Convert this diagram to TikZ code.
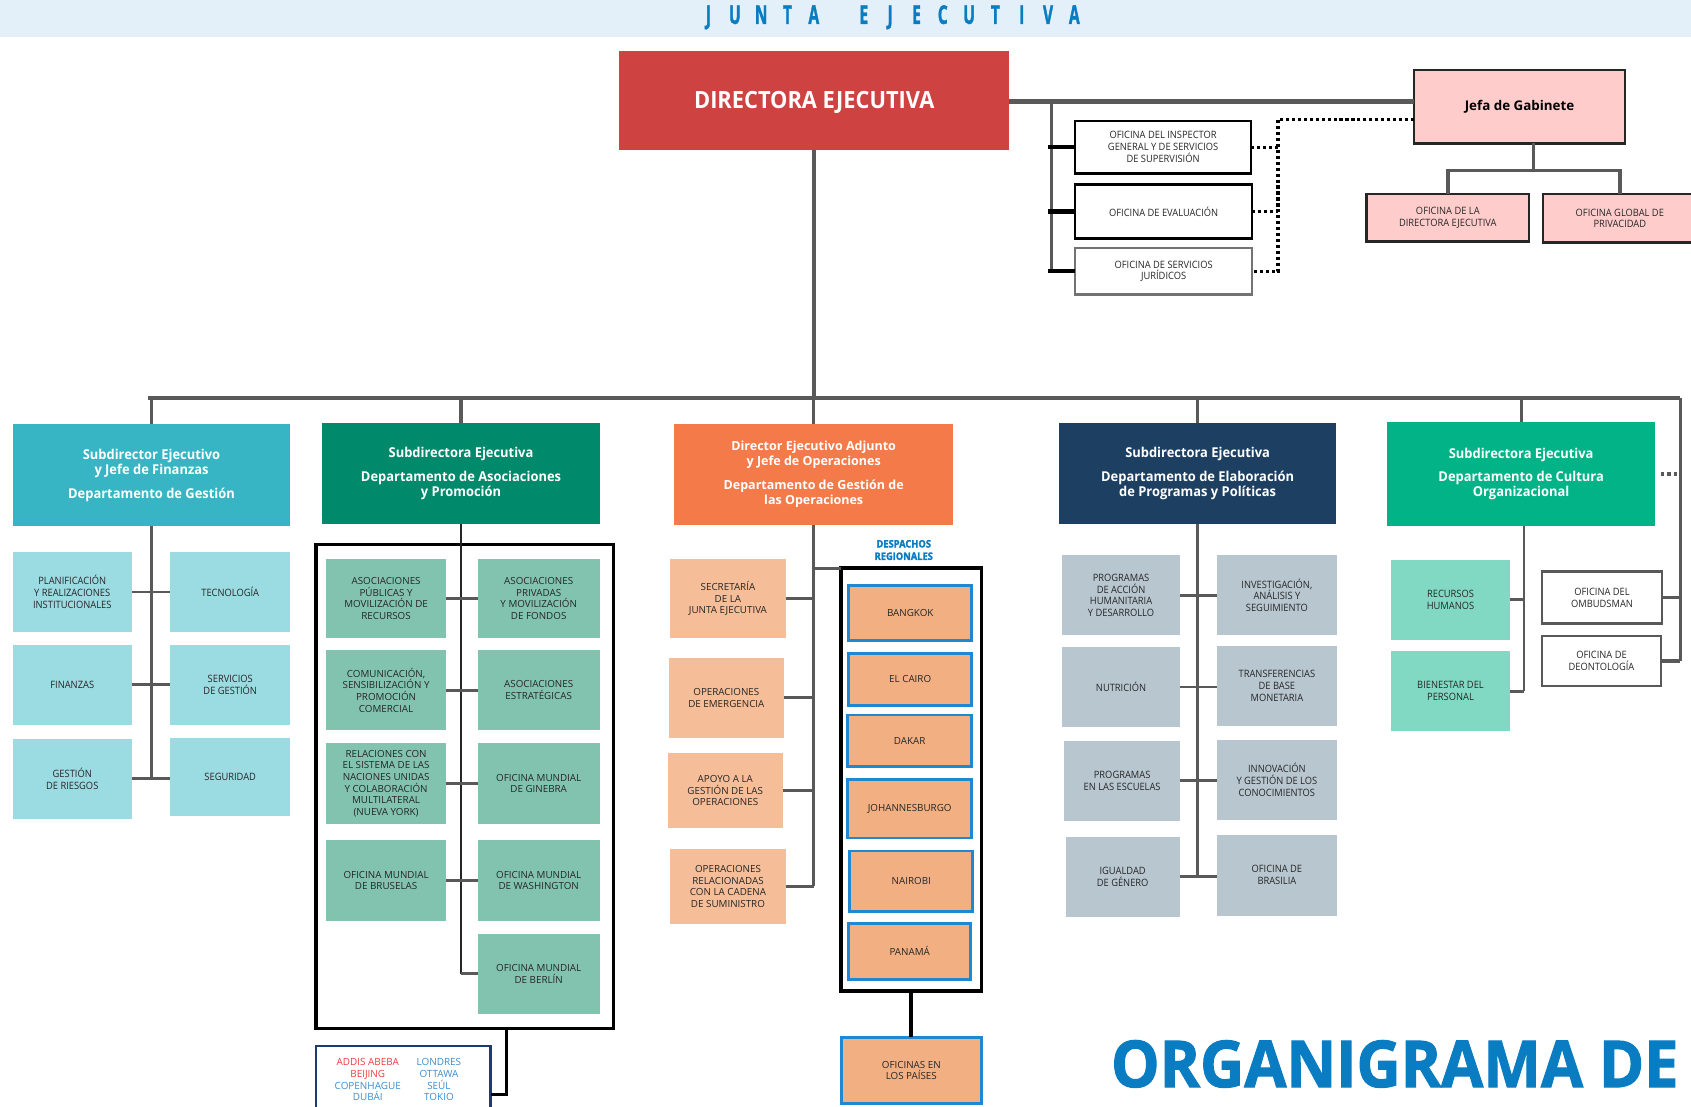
\documentclass[tikz,border=0pt]{standalone}
\usepackage{fontspec}
\setmainfont{Open Sans}
\newfontfamily\condf{Open Sans}[FakeStretch=0.92]
\newfontfamily\widef{Open Sans}
\newfontfamily\hdrf{Open Sans}[FakeStretch=0.6, BoldFeatures={FakeBold=1.2}]
\newfontfamily\deptf{Open Sans}[FakeStretch=0.95]
\newfontfamily\bigf{Open Sans}[FakeStretch=0.92]
\newfontfamily\orgf{Open Sans}[FakeStretch=0.945, BoldFeatures={FakeBold=1.6}]
\newfontfamily\heavyf{Open Sans}[FakeStretch=0.9, BoldFeatures={FakeBold=2}]
\definecolor{bandc}{HTML}{E3F0F9}
\definecolor{hblue}{HTML}{0A7CC1}
\definecolor{redc}{HTML}{CF4242}
\definecolor{pinkc}{HTML}{FFCCCC}
\definecolor{lgray}{HTML}{595959}
\definecolor{txt}{HTML}{262626}
\definecolor{tealc}{HTML}{38B5C5}
\definecolor{lteal}{HTML}{9BDBE2}
\definecolor{dgreen}{HTML}{00896A}
\definecolor{lgreen}{HTML}{82C3AF}
\definecolor{orangec}{HTML}{F47A4A}
\definecolor{peach}{HTML}{F5BD98}
\definecolor{regfill}{HTML}{F2AF82}
\definecolor{regblue}{HTML}{1E88D0}
\definecolor{navyc}{HTML}{1D4062}
\definecolor{gblue}{HTML}{B8C6D0}
\definecolor{greenc}{HTML}{02B388}
\definecolor{mint}{HTML}{82D9C3}
\definecolor{citynavy}{HTML}{1F3A6E}
\definecolor{cityred}{HTML}{F03C3C}
\definecolor{cityblue}{HTML}{3A8DD0}
\newcommand\obox[7]{\node[#6, minimum width={(#4)-(#2)}, minimum height={(#5)-(#3)}] (#1) at ({((#2)+(#4))/2},{((#3)+(#5))/2}) {#7};}
\newcommand\lbx[1]{\makebox[24.4pt]{#1}}
\begin{document}
\begin{tikzpicture}[x=1pt,y=-1pt,
  bx/.style={inner sep=0pt, outer sep=0pt, align=center, text=txt, font=\condf\fontsize{9.4}{11}\selectfont},
  wx/.style={bx, font=\widef\fontsize{9.1}{10.8}\selectfont},
  dept/.style={bx, text=white, font=\deptf\bfseries\fontsize{12.6}{14}\selectfont},
  conn/.style={draw=lgray, line width=2.6pt},
  bus/.style={draw=lgray, line width=4.5pt},
  dotl/.style={draw=black, line width=3pt, dash pattern=on 3pt off 2.5pt},
  fin/.style={bx, fill=lteal},
  aso/.style={wx, fill=lgreen},
  ops/.style={wx, fill=peach},
  reg/.style={wx, fill=regfill, draw=regblue, line width=2.5pt},
  prg/.style={bx, fill=gblue},
  cul/.style={bx, fill=mint},
  wbox/.style={bx, fill=white, draw=black, line width=2.2pt},
  pbox/.style={bx, fill=pinkc, draw=black!85, line width=2.2pt},
  frame/.style={draw=black, line width=3pt, inner sep=0pt, outer sep=0pt}
]
\useasboundingbox (0,0) rectangle (1568,1026);
\clip (0,0) rectangle (1568,1026);

% header
\obox{band}{0}{0}{1568}{34}{bx, fill=bandc}{}
\node[inner sep=0pt, text=hblue, font=\hdrf\bfseries\fontsize{24}{26}\selectfont] (junta) at (826.6,16)
  {\lbx{J}\lbx{U}\lbx{N}\lbx{T}\lbx{A}\hspace{22pt}\lbx{E}\lbx{J}\lbx{E}\lbx{C}\lbx{U}\lbx{T}\lbx{I}\lbx{V}\lbx{A}};

% director and cabinet
\obox{dir}{574}{47}{936}{139}{bx, fill=redc}{}
\node[inner sep=0pt, text=white, font=\bigf\bfseries\fontsize{22}{24}\selectfont] (dirt) at ([yshift=-1.5pt]dir.center) {DIRECTORA EJECUTIVA};
\obox{jefa}{1311}{65}{1507}{133}{pbox, text=black, font=\widef\bfseries\fontsize{12.4}{14}\selectfont}{Jefa de Gabinete}
\obox{odir}{1267}{180}{1418}{224}{pbox}{OFICINA DE LA\\DIRECTORA EJECUTIVA}
\obox{opriv}{1431}{180}{1573}{225}{pbox}{OFICINA GLOBAL DE\\PRIVACIDAD}
\obox{oig}{997}{112}{1160}{161}{wbox}{OFICINA DEL INSPECTOR\\GENERAL Y DE SERVICIOS\\DE SUPERVISIÓN}
\obox{oev}{997}{171}{1161}{221}{wbox}{OFICINA DE EVALUACIÓN}
\obox{ojur}{997}{230}{1161}{273}{wbox, draw=black!55}{OFICINA DE SERVICIOS\\JURÍDICOS}

% departments
\obox{d1}{12}{393}{269}{488}{dept, fill=tealc}{Subdirector Ejecutivo\\y Jefe de Finanzas\\[8pt]Departamento de Gestión}
\obox{d2}{299}{392}{556}{486}{dept, fill=dgreen}{Subdirectora Ejecutiva\\[8pt]Departamento de Asociaciones\\y Promoción}
\obox{d3}{625}{393}{884}{487}{dept, fill=orangec, font=\widef\bfseries\fontsize{11.6}{14}\selectfont}{Director Ejecutivo Adjunto\\y Jefe de Operaciones\\[8pt]Departamento de Gestión de\\las Operaciones}
\obox{d4}{982}{392}{1239}{486}{dept, fill=navyc}{Subdirectora Ejecutiva\\[8pt]Departamento de Elaboración\\de Programas y Políticas}
\obox{d5}{1286}{391}{1535}{488}{dept, fill=greenc}{Subdirectora Ejecutiva\\[8pt]Departamento de Cultura\\Organizacional}

% finance
\obox{fpl}{12}{512}{122}{586}{fin}{PLANIFICACIÓN\\Y REALIZACIONES\\INSTITUCIONALES}
\obox{ftec}{158}{512}{269}{586}{fin}{TECNOLOGÍA}
\obox{ffin}{12}{598}{122}{672}{fin}{FINANZAS}
\obox{fsg}{158}{598}{269}{672}{fin}{SERVICIOS\\DE GESTIÓN}
\obox{frg}{12}{685}{122}{759}{fin}{GESTIÓN\\DE RIESGOS}
\obox{fseg}{158}{684}{269}{757}{fin}{SEGURIDAD}

% partnerships
\obox{asf}{293}{505}{569}{954}{frame}{}
\obox{apub}{302}{518}{414}{592}{aso}{ASOCIACIONES\\PÚBLICAS Y\\MOVILIZACIÓN DE\\RECURSOS}
\obox{apriv}{443}{518}{556}{592}{aso}{ASOCIACIONES\\PRIVADAS\\Y MOVILIZACIÓN\\DE FONDOS}
\obox{acom}{302}{603}{414}{677}{aso}{COMUNICACIÓN,\\SENSIBILIZACIÓN Y\\PROMOCIÓN\\COMERCIAL}
\obox{aest}{443}{603}{556}{677}{aso}{ASOCIACIONES\\ESTRATÉGICAS}
\obox{arel}{302}{689}{414}{764}{aso}{RELACIONES CON\\EL SISTEMA DE LAS\\NACIONES UNIDAS\\Y COLABORACIÓN\\MULTILATERAL\\(NUEVA YORK)}
\obox{agin}{443}{689}{556}{764}{aso}{OFICINA MUNDIAL\\DE GINEBRA}
\obox{abru}{302}{779}{414}{854}{aso}{OFICINA MUNDIAL\\DE BRUSELAS}
\obox{awas}{443}{779}{556}{854}{aso}{OFICINA MUNDIAL\\DE WASHINGTON}
\obox{aber}{443}{866}{556}{940}{aso}{OFICINA MUNDIAL\\DE BERLÍN}
\obox{city}{293}{970}{455}{1045}{frame, draw=citynavy, line width=2.5pt, fill=white}{}
\node[bx, text=cityblue, font=\widef\fontsize{9.2}{11}\selectfont] (cityL) at (341,1001) {\textcolor{cityred}{ADDIS ABEBA}\\\textcolor{cityred}{BEIJING}\\COPENHAGUE\\DUBÁI};
\node[bx, text=cityblue, font=\widef\fontsize{9.2}{11}\selectfont] (cityR) at (407,1001) {LONDRES\\OTTAWA\\SEÚL\\TOKIO};

% operations
\obox{osec}{621}{518}{729}{592}{ops}{SECRETARÍA\\DE LA\\JUNTA EJECUTIVA}
\obox{oem}{620}{610}{727}{684}{ops}{OPERACIONES\\DE EMERGENCIA}
\obox{oapo}{619}{698}{726}{768}{ops}{APOYO A LA\\GESTIÓN DE LAS\\OPERACIONES}
\obox{osum}{621}{787}{729}{857}{ops}{OPERACIONES\\RELACIONADAS\\CON LA CADENA\\DE SUMINISTRO}
\node[bx, text=hblue, font=\heavyf\bfseries\fontsize{9.6}{11.5}\selectfont] (despl) at (838,510) {DESPACHOS\\REGIONALES};
\obox{regf}{780}{527}{910}{919}{frame, line width=3.5pt}{}
\obox{rbkk}{787}{543}{901}{594}{reg}{BANGKOK}
\obox{rcai}{787}{606}{901}{654}{reg}{EL CAIRO}
\obox{rdak}{786}{663}{901}{711}{reg}{DAKAR}
\obox{rjoh}{786}{723}{901}{777}{reg}{JOHANNESBURGO}
\obox{rnai}{788}{789}{902}{845}{reg}{NAIROBI}
\obox{rpan}{787}{856}{900}{908}{reg}{PANAMÁ}
\obox{pais}{780}{962}{910}{1023}{reg}{OFICINAS EN\\LOS PAÍSES}

% programmes
\obox{pha}{985}{515}{1094}{589}{prg}{PROGRAMAS\\DE ACCIÓN\\HUMANITARIA\\Y DESARROLLO}
\obox{pinv}{1128}{515}{1240}{589}{prg}{INVESTIGACIÓN,\\ANÁLISIS Y\\SEGUIMIENTO}
\obox{pnut}{985}{600}{1094}{674}{prg}{NUTRICIÓN}
\obox{ptra}{1128}{599}{1240}{673}{prg}{TRANSFERENCIAS\\DE BASE\\MONETARIA}
\obox{pesc}{987}{687}{1094}{761}{prg}{PROGRAMAS\\EN LAS ESCUELAS}
\obox{pinn}{1128}{686}{1240}{760}{prg}{INNOVACIÓN\\Y GESTIÓN DE LOS\\CONOCIMIENTOS}
\obox{pgen}{988}{776}{1094}{850}{prg}{IGUALDAD\\DE GÉNERO}
\obox{pbra}{1128}{774}{1240}{849}{prg}{OFICINA DE\\BRASILIA}

% culture
\obox{crh}{1290}{519}{1400}{593}{cul}{RECURSOS\\HUMANOS}
\obox{cbp}{1290}{604}{1400}{678}{cul}{BIENESTAR DEL\\PERSONAL}
\obox{comb}{1430}{530}{1541}{578}{wbox, draw=lgray}{OFICINA DEL\\OMBUDSMAN}
\obox{cdeo}{1430}{590}{1540}{636}{wbox, draw=lgray}{OFICINA DE\\DEONTOLOGÍA}

\node[anchor=base west, inner sep=0pt, text=hblue, font=\orgf\bfseries\fontsize{60}{60}\selectfont] (org) at (1030,1008) {ORGANIGRAMA DE};

% ---- connectors
\coordinate (tbr) at (975,94);
\coordinate (dv) at (1185,111);
\coordinate (jj) at (1422,158);
\coordinate (busL) at (137,369);
\coordinate (busR) at (1558,369);
\coordinate (cb) at (470,1015);

\draw[conn, line width=4pt] (dir.east |- tbr) -- (tbr -| jefa.west);
\draw[conn, line width=3pt] (tbr) -- (tbr |- ojur.west);
\foreach \n in {oig,oev,ojur} \draw[draw=black, line width=4pt] (\n.west -| tbr) ++(-3,0) -- (\n.west);
\draw[dotl] (dv -| jefa.west) -- (dv) -- (dv |- ojur.east) -- (ojur.east);
\draw[dotl] (oig.east) -- (oig.east -| dv);
\draw[dotl] (oev.east) -- (oev.east -| dv);
\draw[conn, line width=3.5pt] (jefa.south -| jj) -- (jj);
\draw[conn, line width=3.5pt] (odir.north) -- (odir.north |- jj) -- (opriv.north |- jj) -- (opriv.north);

\draw[bus, line width=4pt] (dir.south) -- (dir.south |- busL);
\draw[bus] (busL) -- (busR);
\draw[conn, line width=3pt] (busR) -- (busR |- cdeo.east);
\foreach \d in {d1,d2,d3,d4,d5} \draw[conn, line width=3pt] (\d.north |- busL) -- (\d.north);

% finance
\draw[conn] (d1.south) -- (d1.south |- frg.east);
\foreach \l/\r in {fpl/ftec, ffin/fsg, frg/fseg} \draw[conn] (\l.east) -- (\l.east -| \r.west);
% partnerships
\draw[conn, draw=black!85] (d2.south) -- (d2.south |- aber.west);
\foreach \l/\r in {apub/apriv, acom/aest, arel/agin, abru/awas} \draw[conn] (\l.east) -- (\l.east -| \r.west);
\draw[conn] (aber.west -| d2.south) -- (aber.west);
\draw[draw=black, line width=3pt] (asf.south -| cb) -- (cb) -- (cb -| city.east);
% operations
\draw[conn] (d3.south) -- (d3.south |- osum.east);
\foreach \n in {osec,oem,oapo,osum} \draw[conn] (\n.east) -- (\n.east -| d3.south);
\draw[conn] (regf.north west -| d3.south) -- (regf.north west);
\draw[draw=black, line width=3.5pt] (regf.south) -- (pais.north);
% programmes
\draw[conn] (d4.south) -- (d4.south |- pgen.east);
\foreach \l/\r in {pha/pinv, pnut/ptra, pesc/pinn, pgen/pbra} \draw[conn] (\l.east) -- (\l.east -| \r.west);
% culture
\draw[conn, line width=2.4pt] ([xshift=2.5pt]d5.south) -- ([xshift=2.5pt]d5.south |- cbp.east);
\foreach \n in {crh,cbp} \draw[conn, line width=2.4pt] (\n.east) -- ([xshift=2.5pt]\n.east -| d5.south);
\foreach \n in {comb,cdeo} \draw[conn, line width=3.5pt] (\n.east) -- (\n.east -| busR);
\draw[draw=lgray, line width=3pt, dash pattern=on 3pt off 3pt] ([xshift=5pt]d5.east) -- (d5.east -| busR);
\end{tikzpicture}
\end{document}
